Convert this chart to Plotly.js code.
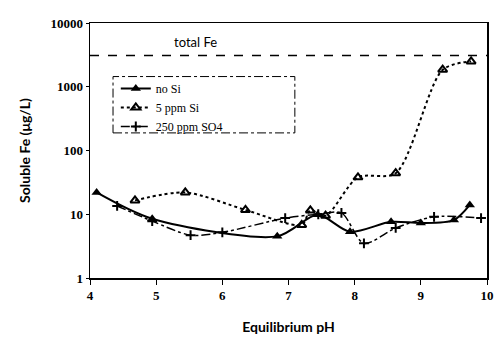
<!DOCTYPE html>
<html><head><meta charset="utf-8">
<script src="https://cdn.plot.ly/plotly-3.0.1.min.js"></script>
<style>html,body{margin:0;padding:0;background:#fff}#c{width:498px;height:344px}</style>
</head><body><div id="c"></div>
<script>
// no Si
const noSiPH = [4.1, 4.94, 6.83, 7.44, 7.93, 8.55, 9.0, 9.5, 9.74];
const noSiFe = [22, 8.5, 4.5, 9.8, 5.3, 7.6, 7.3, 8.1, 14];
// 5 ppm Si
const siPH = [4.68, 5.44, 6.35, 7.2, 7.33, 7.56, 8.05, 8.62, 9.33, 9.76];
const siFe = [16.5, 22, 11.7, 6.8, 11.5, 9.5, 38, 44, 1850, 2500];
// 250 ppm SO4
const so4PH = [4.41, 4.94, 5.52, 6.0, 6.95, 7.45, 7.8, 8.14, 8.62, 9.2, 9.91];
const so4Fe = [13.5, 7.8, 4.7, 5.2, 8.7, 10, 10.5, 3.5, 6.1, 9.1, 8.7];
// total Fe reference
const totalPH = [4, 10];
const totalFe = [3100, 3100];
const xTicks = [4, 5, 6, 7, 8, 9, 10];
const yTicks = [1, 10, 100, 1000, 10000];
const yTickText = ["1", "10", "100", "1000", "10000"];
const seriesNames = ["no Si", "5 ppm Si", "250 ppm SO4"];

const serif = "Liberation Serif, serif";
const traces = [
  {x: noSiPH, y: noSiFe, name: seriesNames[0], mode: "lines+markers",
   line: {color: "#000", width: 2, shape: "spline", smoothing: 0.8},
   marker: {symbol: "triangle-up", size: 9, color: "#000"}},
  {x: siPH, y: siFe, name: seriesNames[1], mode: "lines+markers",
   line: {color: "#000", width: 2, dash: "dot", shape: "spline", smoothing: 0.8},
   marker: {symbol: "triangle-up-open", size: 8, color: "#000", line: {width: 2}}},
  {x: so4PH, y: so4Fe, name: seriesNames[2], mode: "lines+markers",
   line: {color: "#000", width: 1.5, dash: "dashdot", shape: "spline", smoothing: 0.8},
   marker: {symbol: "cross-thin-open", size: 7, color: "#000", line: {width: 2, color: "#000"}}},
  {x: totalPH, y: totalFe, mode: "lines", showlegend: false, hoverinfo: "skip",
   line: {color: "#000", width: 1.5, dash: "dash"}}
];

const layout = {
  width: 498, height: 344,
  margin: {l: 90, r: 11, t: 23, b: 66},
  paper_bgcolor: "#fff", plot_bgcolor: "#fff",
  showlegend: true,
  legend: {x: 0.065, y: 0.80, xanchor: "left", yanchor: "top",
    bgcolor: "rgba(0,0,0,0)", borderwidth: 0, tracegroupgap: 0,
    font: {family: serif, size: 12, color: "#000"}},
  xaxis: {range: [4, 10], tickvals: xTicks, ticktext: xTicks.map(String),
    showgrid: false, zeroline: false, showline: true, linecolor: "#000", linewidth: 1.5,
    mirror: true, ticks: "outside", ticklen: 5, tickcolor: "#000",
    tickfont: {family: serif, size: 13, color: "#000", weight: "bold"},
    title: {text: "<b>Equilibrium pH</b>", font: {family: "Lato, sans-serif", size: 14, color: "#000"}, standoff: 20}},
  yaxis: {type: "log", range: [0, 4], tickvals: yTicks, ticktext: yTickText,
    showgrid: false, zeroline: false, showline: true, linecolor: "#000", linewidth: 1.5,
    mirror: true, ticks: "outside", ticklen: 3, tickcolor: "#000",
    tickfont: {family: serif, size: 13, color: "#000", weight: "bold"},
    title: {text: "<b>Soluble Fe (μg/L)</b>", font: {family: "Lato, sans-serif", size: 14, color: "#000"}, standoff: 16}},
  shapes: [
    {type: "rect", xref: "paper", yref: "paper", x0: 0.058, x1: 0.516, y0: 0.569, y1: 0.79,
     line: {color: "#000", width: 1, dash: "dashdot"}}
  ],
  annotations: [
    {text: "total Fe", xref: "x", yref: "paper", x: 5.6, y: 0.925, yanchor: "middle", showarrow: false,
     font: {family: "Lato, sans-serif", size: 13, color: "#000"}}
  ]
};
Plotly.newPlot("c", traces, layout, {displayModeBar: false, staticPlot: true});
</script></body></html>
